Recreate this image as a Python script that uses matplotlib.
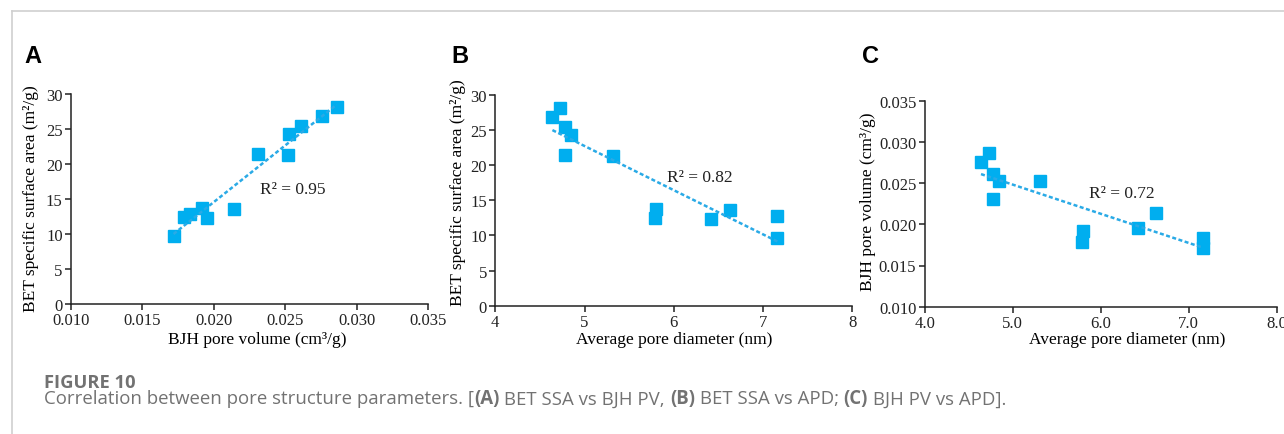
import matplotlib
matplotlib.use("Agg")
import matplotlib.pyplot as plt
import numpy as np
from matplotlib.lines import Line2D

# ---- data (one entry per sample) ----
apd = [4.64, 4.73, 4.78, 4.845, 4.78, 5.315, 5.80, 5.79, 6.42, 6.63, 7.16, 7.16]          # nm
pv = [0.0276, 0.0286, 0.0261, 0.02525, 0.0231, 0.0252, 0.0192, 0.0179, 0.0195, 0.0214, 0.01830, 0.01718]  # cm3/g
ssa = [26.9, 28.2, 25.4, 24.35, 21.45, 21.3, 13.75, 12.5, 12.3, 13.6, 12.8, 9.65]        # m2/g

r2_labels = ["R² = 0.95", "R² = 0.82", "R² = 0.72"]
panel_letters = ["A", "B", "C"]
xlabels = ["BJH pore volume (cm³/g)", "Average pore diameter (nm)", "Average pore diameter (nm)"]
ylabels = ["BET specific surface area (m²/g)", "BET specific surface area (m²/g)", "BJH pore volume (cm³/g)"]
caption_title = "FIGURE 10"
caption_parts = [("Correlation between pore structure parameters. [", False), ("(A)", True),
                 (" BET SSA vs BJH PV, ", False), ("(B)", True), (" BET SSA vs APD; ", False),
                 ("(C)", True), (" BJH PV vs APD].", False)]

W, H = 1284, 435
fig = plt.figure(figsize=(W / 100, H / 100), dpi=100)
fig.patch.set_facecolor("white")

serif = "Liberation Serif"
mcol = "#00AEEF"
lcol = "#2AAAE6"


def px_axes(left, right, top, bottom):
    return fig.add_axes([left / W, 1 - bottom / H, (right - left) / W, (bottom - top) / H])


panels = [
    dict(pos=(71, 428, 95, 305), x=pv, y=ssa, xlim=(0.010, 0.035), ylim=(0, 30),
         xticks=np.arange(0.010, 0.0351, 0.005), yticks=np.arange(0, 31, 5), xfmt="{:.3f}", yfmt="{:.0f}",
         r2pos=(0.02323, 16.4), xlc=(0.522, -0.127), ylc=(-0.09, 0.505)),
    dict(pos=(495.3, 852.3, 96, 306.7), x=apd, y=ssa, xlim=(4, 8), ylim=(0, 30),
         xticks=np.arange(4, 8.1, 1), yticks=np.arange(0, 31, 5), xfmt="{:.0f}", yfmt="{:.0f}",
         r2pos=(5.92, 18.3), xlc=(0.5, -0.122), ylc=(-0.082, 0.54)),
    dict(pos=(924.7, 1276.7, 101.7, 307.7), x=apd, y=pv, xlim=(4, 8), ylim=(0.010, 0.035),
         xticks=np.arange(4, 8.1, 1), yticks=np.arange(0.010, 0.0351, 0.005), xfmt="{:.1f}", yfmt="{:.3f}",
         r2pos=(5.87, 0.02375), xlc=(0.576, -0.12), ylc=(-0.138, 0.516)),
]

for i, p in enumerate(panels):
    ax = px_axes(*p["pos"])
    x = np.array(p["x"])
    y = np.array(p["y"])
    k, b = np.polyfit(x, y, 1)
    xx = np.array([x.min(), x.max()])
    ax.plot(xx, k * xx + b, color=lcol, lw=1.8, ls=(0, (1.6, 1.0)), zorder=3)
    ax.plot(x, y, ls="none", marker="s", ms=8, color=mcol, mec=mcol, zorder=2)
    ax.set_xlim(*p["xlim"])
    ax.set_ylim(*p["ylim"])
    ax.set_xticks(p["xticks"])
    ax.set_yticks(p["yticks"])
    ax.set_xticklabels([p["xfmt"].format(v) for v in p["xticks"]], fontfamily=serif, fontsize=12)
    ax.set_yticklabels([p["yfmt"].format(v) for v in p["yticks"]], fontfamily=serif, fontsize=12)
    for s in ["top", "right"]:
        ax.spines[s].set_visible(False)
    for s in ["left", "bottom"]:
        ax.spines[s].set_linewidth(1.1)
        ax.spines[s].set_color("#222222")
    ax.tick_params(direction="out", length=4, width=1.1, pad=2, colors="#222222")
    ax.set_xlabel(xlabels[i], fontfamily=serif, fontsize=12.5)
    ax.set_ylabel(ylabels[i], fontfamily=serif, fontsize=12.5)
    ax.xaxis.set_label_coords(*p["xlc"])
    ax.yaxis.set_label_coords(*p["ylc"])
    ax.text(p["r2pos"][0], p["r2pos"][1], r2_labels[i], fontfamily=serif, fontsize=12.5,
            ha="left", va="center", color="#222222")
    ax.patch.set_alpha(0)

# panel letters
for letter, lx in zip(panel_letters, [24, 451.7, 861.7]):
    fig.text(lx / W, 1 - 63.3 / H, letter, fontfamily="Liberation Sans", fontweight="bold",
             fontsize=17, ha="left", va="baseline", color="black")

# frame lines
fig.add_artist(Line2D([12 / W, 1], [1 - 12 / H, 1 - 12 / H], color="#cfcfcf", lw=1.2))
fig.add_artist(Line2D([12 / W, 12 / W], [0, 1 - 12 / H], color="#cfcfcf", lw=1.2))

# caption (font size tuned so that the text spans the same width as the reference)
cap_font = "Open Sans"
cap_col = "#727272"
renderer = fig.canvas.get_renderer()

t_title = fig.text(44 / W, 1 - 388.3 / H, caption_title, fontfamily=cap_font, fontweight="bold",
                   fontsize=11, color=cap_col, ha="left", va="baseline")
wt = t_title.get_window_extent(renderer=renderer).width
t_title.set_fontsize(11 * 91.0 / wt)

probe_w = 0
for txt, bold in caption_parts[:5]:
    t = fig.text(0, 0, txt, fontfamily=cap_font, fontweight="bold" if bold else "normal", fontsize=11)
    probe_w += t.get_window_extent(renderer=renderer).width
    t.remove()
cap_size = 11 * (843 - 44) / probe_w

xpos = 44
for txt, bold in caption_parts:
    t = fig.text(xpos / W, 1 - 404.3 / H, txt, fontfamily=cap_font,
                 fontweight="bold" if bold else "normal", fontsize=cap_size,
                 color=cap_col, ha="left", va="baseline")
    bb = t.get_window_extent(renderer=renderer)
    xpos += bb.width

fig.savefig("out.png", dpi=100, facecolor="white")
